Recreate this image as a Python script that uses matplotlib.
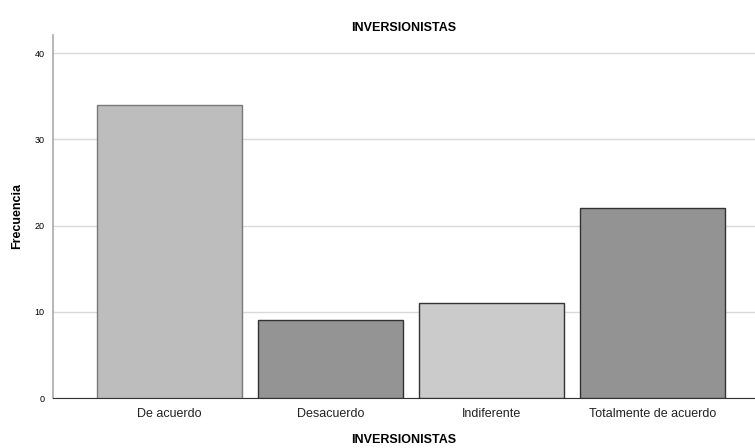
import matplotlib
matplotlib.use("Agg")
import matplotlib.pyplot as plt

# Datos
categorias = ["De acuerdo", "Desacuerdo", "Indiferente", "Totalmente de acuerdo"]
frecuencias = [34, 9, 11, 22]
colores = ["#bdbdbd", "#949494", "#cbcbcb", "#939393"]
bordes = ["#7a7a7a", "#333333", "#333333", "#333333"]

plt.rcParams["font.family"] = ["Liberation Sans", "DejaVu Sans"]

fig = plt.figure(figsize=(7.55, 4.48), dpi=100)
ax = fig.add_axes([0.0702, 0.1116, 0.9298, 0.8103])

x = range(len(categorias))
ax.bar(x, frecuencias, width=0.9, color=colores, edgecolor=bordes, linewidth=1, zorder=3)

ax.set_xlim(-0.724, 3.637)
ax.set_ylim(0, 42.1)
ax.set_yticks([0, 10, 20, 30, 40])
ax.set_xticks(list(x))
ax.set_xticklabels(categorias, fontsize=9, color="#222222")
ax.tick_params(axis="y", labelsize=6.5, length=0, pad=6)
ax.tick_params(axis="x", length=0, pad=7)

ax.grid(axis="y", color="#d9d9d9", linewidth=1, zorder=0)
for s in ["top", "right"]:
    ax.spines[s].set_visible(False)
ax.spines["left"].set_color("#aaaaaa")
ax.spines["left"].set_linewidth(1.2)
ax.spines["bottom"].set_color("#333333")

ax.set_title("INVERSIONISTAS", fontsize=9, fontweight="bold", pad=3)
ax.set_xlabel("INVERSIONISTAS", fontsize=9, fontweight="bold", labelpad=10)
ax.set_ylabel("Frecuencia", fontsize=9, fontweight="bold", labelpad=8)

fig.savefig("out.png", dpi=100)
